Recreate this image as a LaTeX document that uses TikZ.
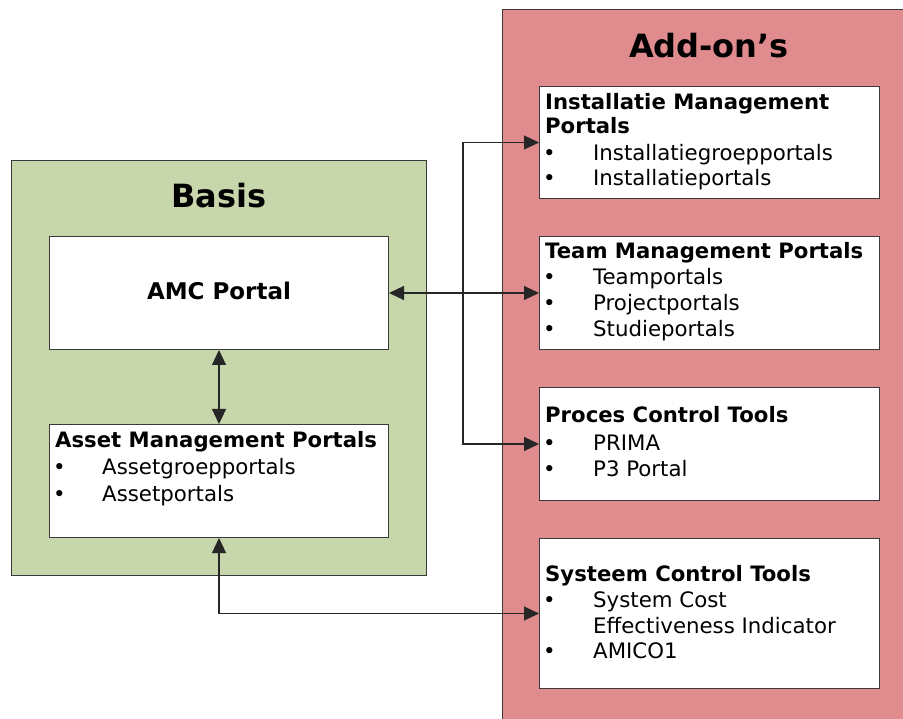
\documentclass[tikz,border=0pt]{standalone}
\usepackage{fontspec}
\setmainfont{DejaVu Sans}
\usetikzlibrary{arrows.meta}
\definecolor{basisgreen}{HTML}{C8D6AC}
\definecolor{addonpink}{HTML}{E08B8D}
\definecolor{edgecol}{HTML}{3A3A3A}
\begin{document}
\begin{tikzpicture}[x=1pt,y=-1pt,
  panel/.style={draw=edgecol, line width=1pt},
  box/.style={draw=edgecol, fill=white, line width=1pt, anchor=north west, inner sep=0pt, minimum width=340pt},
  ttl/.style={font=\bfseries\fontsize{32}{38}\selectfont, anchor=base, inner sep=0pt},
  amct/.style={font=\bfseries\fontsize{23}{28}\selectfont, anchor=base, inner sep=0pt},
  hd/.style={font=\bfseries\fontsize{21.2}{25}\selectfont, anchor=base west, inner sep=0pt},
  itm/.style={font=\fontsize{21.3}{25}\selectfont, anchor=base west, inner sep=0pt},
  conn/.style={draw=black!85, line width=1.1pt, {Triangle[length=15pt,width=14pt]}-{Triangle[length=15pt,width=14pt]}},
]
\useasboundingbox (0,0) rectangle (903,719);
% panels
\fill[basisgreen, panel] (11,161) rectangle (426,575);
\fill[addonpink, panel] (502,10) rectangle (910,730);
\node[ttl] (basis) at (219,208) {Basis};
\node[ttl] (addon) at (709,58) {Add-on’s};
% boxes
\node[box, minimum width=339pt, minimum height=113pt] (amc) at (49,236) {};
\node[box, minimum width=339pt, minimum height=113pt] (asset) at (49,424) {};
\node[box, minimum height=112pt] (inst) at (539,86) {};
\node[box, minimum height=113pt] (team) at (539,236) {};
\node[box, minimum height=113pt] (proc) at (539,387) {};
\node[box, minimum height=150pt] (sys) at (539,538) {};
% texts
\node[amct] (amcT) at (219,300) {AMC Portal};
\node[hd] (assetT) at (55,448) {Asset Management Portals};
\node[itm] (assetA) at (53,475) {\makebox[49pt][l]{•}Assetgroepportals};
\node[itm] (assetB) at (53,501) {\makebox[49pt][l]{•}Assetportals};

\node[hd] (instT1) at (545,110) {Installatie Management};
\node[hd] (instT2) at (545,134) {Portals};
\node[itm] (instA) at (543,161) {\makebox[50pt][l]{•}Installatiegroepportals};
\node[itm] (instB) at (543,186) {\makebox[50pt][l]{•}Installatieportals};

\node[hd] (teamT) at (545,259) {Team Management Portals};
\node[itm] (teamA) at (543,285) {\makebox[50pt][l]{•}Teamportals};
\node[itm] (teamB) at (543,311) {\makebox[50pt][l]{•}Projectportals};
\node[itm] (teamC) at (543,337) {\makebox[50pt][l]{•}Studieportals};

\node[hd] (procT) at (545,423) {Proces Control Tools};
\node[itm] (procA) at (543,450) {\makebox[50pt][l]{•}PRIMA};
\node[itm] (procB) at (543,476) {\makebox[50pt][l]{•}P3 Portal};

\node[hd] (sysT) at (545,581) {Systeem Control Tools};
\node[itm] (sysA) at (543,607) {\makebox[50pt][l]{•}System Cost};
\node[itm] (sysB) at (593,633) {Effectiveness Indicator};
\node[itm] (sysC) at (543,658) {\makebox[50pt][l]{•}AMICO1};
% connectors
\coordinate (bus) at (463,0);
\draw[conn] (amc.east) -- (team.west);
\draw[conn] (inst.west) -- (inst.west -| bus) -- (proc.west -| bus) -- (proc.west);
\draw[conn] (amc.south) -- (asset.north);
\draw[conn] (asset.south) |- (sys.west);
\end{tikzpicture}
\end{document}
